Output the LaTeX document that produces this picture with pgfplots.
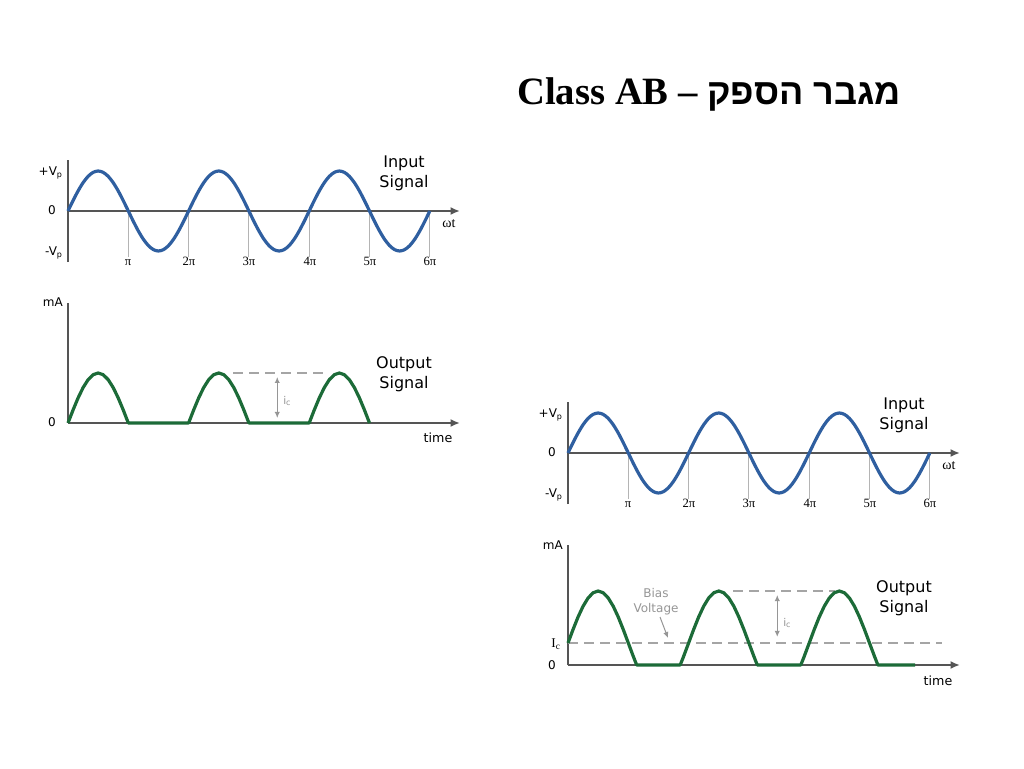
\documentclass[border=0pt]{standalone}
\usepackage{pgfplots}
\pgfplotsset{compat=1.18}
\usepackage{pgfplotstable}
\usetikzlibrary{arrows.meta}
\usepackage{fontspec}
\setmainfont{Liberation Serif}
\newfontfamily\sans{DejaVu Sans}
\newfontfamily\hebfont[Script=Hebrew]{Liberation Sans}
\TeXXeTstate=1

\definecolor{sigblue}{RGB}{47,95,160}
\definecolor{siggreen}{RGB}{28,107,56}
\definecolor{axgray}{RGB}{85,85,85}
\definecolor{tickgray}{RGB}{180,180,180}
\definecolor{dashgray}{RGB}{165,165,165}
\definecolor{txtgray}{RGB}{150,150,150}

% input sine, x in units of pi
\pgfplotstableread{
x y
0 0
0.0833 0.2588
0.1667 0.5
0.25 0.7071
0.3333 0.866
0.4167 0.9659
0.5 1
0.5833 0.9659
0.6667 0.866
0.75 0.7071
0.8333 0.5
0.9167 0.2588
1 0
1.0833 -0.2588
1.1667 -0.5
1.25 -0.7071
1.3333 -0.866
1.4167 -0.9659
1.5 -1
1.5833 -0.9659
1.6667 -0.866
1.75 -0.7071
1.8333 -0.5
1.9167 -0.2588
2 0
2.0833 0.2588
2.1667 0.5
2.25 0.7071
2.3333 0.866
2.4167 0.9659
2.5 1
2.5833 0.9659
2.6667 0.866
2.75 0.7071
2.8333 0.5
2.9167 0.2588
3 0
3.0833 -0.2588
3.1667 -0.5
3.25 -0.7071
3.3333 -0.866
3.4167 -0.9659
3.5 -1
3.5833 -0.9659
3.6667 -0.866
3.75 -0.7071
3.8333 -0.5
3.9167 -0.2588
4 0
4.0833 0.2588
4.1667 0.5
4.25 0.7071
4.3333 0.866
4.4167 0.9659
4.5 1
4.5833 0.9659
4.6667 0.866
4.75 0.7071
4.8333 0.5
4.9167 0.2588
5 0
5.0833 -0.2588
5.1667 -0.5
5.25 -0.7071
5.3333 -0.866
5.4167 -0.9659
5.5 -1
5.5833 -0.9659
5.6667 -0.866
5.75 -0.7071
5.8333 -0.5
5.9167 -0.2588
6 0
}\sinedata

% class B output (half-wave)
\pgfplotstableread{
x y
0 0
0.0833 0.2588
0.1667 0.5
0.25 0.7071
0.3333 0.866
0.4167 0.9659
0.5 1
0.5833 0.9659
0.6667 0.866
0.75 0.7071
0.8333 0.5
0.9167 0.2588
1 0
2 0
2.0833 0.2588
2.1667 0.5
2.25 0.7071
2.3333 0.866
2.4167 0.9659
2.5 1
2.5833 0.9659
2.6667 0.866
2.75 0.7071
2.8333 0.5
2.9167 0.2588
3 0
4 0
4.0833 0.2588
4.1667 0.5
4.25 0.7071
4.3333 0.866
4.4167 0.9659
4.5 1
4.5833 0.9659
4.6667 0.866
4.75 0.7071
4.8333 0.5
4.9167 0.2588
5 0
}\halfdata

% class AB output (biased, clipped at 0)
\pgfplotstableread{
x y
0 0.423
0.0833 0.682
0.1667 0.923
0.25 1.130
0.3333 1.289
0.4167 1.389
0.5 1.423
0.5833 1.389
0.6667 1.289
0.75 1.130
0.8333 0.923
0.9167 0.682
1 0.423
1.0833 0.164
1.139 0
1.861 0
1.9167 0.164
2 0.423
2.0833 0.682
2.1667 0.923
2.25 1.130
2.3333 1.289
2.4167 1.389
2.5 1.423
2.5833 1.389
2.6667 1.289
2.75 1.130
2.8333 0.923
2.9167 0.682
3 0.423
3.0833 0.164
3.139 0
3.861 0
3.9167 0.164
4 0.423
4.0833 0.682
4.1667 0.923
4.25 1.130
4.3333 1.289
4.4167 1.389
4.5 1.423
4.5833 1.389
4.6667 1.289
4.75 1.130
4.8333 0.923
4.9167 0.682
5 0.423
5.0833 0.164
5.139 0
5.755 0
}\abdata

\pgfplotsset{sig/.style={hide axis, clip=false, x=45.225pt, xmin=0, xmax=6.5, anchor=origin}}
\tikzset{
  xax/.style={axgray, line width=1.5pt, -{Latex[length=7pt,width=6pt]}},
  yax/.style={axgray, line width=1.1pt},
  tk/.style={tickgray, line width=0.75pt},
  dsh/.style={dashgray, line width=0.9pt, dash pattern=on 7.5pt off 4.5pt},
  dbl/.style={txtgray, line width=0.9pt, {Latex[length=4.5pt,width=4pt]}-{Latex[length=4.5pt,width=4pt]}},
}

\newcommand{\inputaxis}[1]{%
\begin{axis}[sig, at={#1}, y=30pt, ymin=-1.3, ymax=1.3]
\pgfplotsinvokeforeach{1,...,6}{\draw[tk] (axis cs:##1,0) -- (axis cs:##1,-1.15);}
\draw[yax] (axis cs:0,-1.28) -- (axis cs:0,1.28);
\draw[xax] (axis cs:0,0) -- (axis cs:6.5,0);
\addplot[sigblue, line width=2.4pt, smooth, line join=round] table {\sinedata};
\end{axis}}

\newcommand{\inputlabels}[2]{%
\begin{scope}[shift={(#1,#2)}]
\node[anchor=base east, inner sep=0, font=\sans\fontsize{9}{10}\selectfont] at (63,176) {+V\textsubscript{p}};
\node[anchor=base east, inner sep=0, font=\sans\fontsize{9}{10}\selectfont] at (56,215) {0};
\node[anchor=base east, inner sep=0, font=\sans\fontsize{9}{10}\selectfont] at (63,256) {-V\textsubscript{p}};
\node[font=\fontsize{10.5}{12}\selectfont, inner sep=0] at (449,224) {ωt};
\foreach \xx/\lab in {128/π,189/2π,249/3π,310/4π,370/5π,430/6π}
  \node[anchor=base, inner sep=0, font=\fontsize{9.5}{11}\selectfont] at (\xx,266) {\lab};
\node[anchor=base, inner sep=0, font=\sans\fontsize{12}{14}\selectfont] at (404,168) {Input};
\node[anchor=base, inner sep=0, font=\sans\fontsize{12}{14}\selectfont] at (404,188) {Signal};
\end{scope}}

\begin{document}
\begin{tikzpicture}
\path[fill=white, use as bounding box] (0,0) rectangle (768pt,576pt);

% ---- top-left: input ----
\inputaxis{(51pt,417.75pt)}

% ---- top-left: class B output ----
\begin{axis}[sig, at={(51pt,258.75pt)}, y=37.5pt, ymin=0, ymax=2.4]
\draw[yax] (axis cs:0,0) -- (axis cs:0,2.4);
\draw[xax] (axis cs:0,0) -- (axis cs:6.5,0);
\draw[dsh] (axis cs:2.74,1) -- (axis cs:4.3,1);
\draw[dbl] (axis cs:3.47,0.1) -- (axis cs:3.47,0.92);
\addplot[siggreen, line width=2.4pt, sharp plot, line join=round] table {\halfdata};
\end{axis}

% ---- bottom-right: input ----
\inputaxis{(426pt,236.25pt)}

% ---- bottom-right: class AB output ----
\begin{axis}[sig, at={(426pt,77.25pt)}, y=39pt, ymin=0, ymax=2.31]
\draw[yax] (axis cs:0,0) -- (axis cs:0,2.31);
\draw[xax] (axis cs:0,0) -- (axis cs:6.5,0);
\draw[dsh] (axis cs:0,0.423) -- (axis cs:6.2,0.423);
\draw[dsh] (axis cs:2.74,1.423) -- (axis cs:4.43,1.423);
\draw[dbl] (axis cs:3.47,0.54) -- (axis cs:3.47,1.346);
\addplot[siggreen, line width=2.4pt, sharp plot, line join=round] table {\abdata};
\end{axis}

% ---- text in pixel coordinates ----
\begin{scope}[x=0.75pt, y=-0.75pt, shift={(0pt,576pt)}]
\node[anchor=base west, inner sep=0, font=\fontsize{29}{32}\selectfont\bfseries] at (517,105)
  {Class AB – {\hebfont\fontsize{27}{30}\selectfont\beginR מגבר הספק\endR}};

\inputlabels{0}{0}
\inputlabels{500}{242}

% top-left output labels
\node[anchor=base east, inner sep=0, font=\sans\fontsize{9}{10}\selectfont] at (63,307) {mA};
\node[anchor=base east, inner sep=0, font=\sans\fontsize{9}{10}\selectfont] at (56,427) {0};
\node[anchor=base, inner sep=0, font=\sans\fontsize{9.5}{11}\selectfont] at (438,443) {time};
\node[anchor=base, inner sep=0, font=\sans\fontsize{12}{14}\selectfont] at (404,369) {Output};
\node[anchor=base, inner sep=0, font=\sans\fontsize{12}{14}\selectfont] at (404,389) {Signal};
\node[anchor=west, inner sep=0, text=txtgray, font=\sans\fontsize{8}{9}\selectfont] at (283,401) {i\textsubscript{c}};

% bottom-right output labels
\node[anchor=base east, inner sep=0, font=\sans\fontsize{9}{10}\selectfont] at (563,549) {mA};
\node[anchor=base east, inner sep=0, font=\fontsize{10}{11}\selectfont] at (561,647) {I\textsubscript{c}};
\node[anchor=base east, inner sep=0, font=\sans\fontsize{9}{10}\selectfont] at (556,669) {0};
\node[anchor=base, inner sep=0, font=\sans\fontsize{9.5}{11}\selectfont] at (938,685) {time};
\node[anchor=base, inner sep=0, font=\sans\fontsize{12}{14}\selectfont] at (904,592) {Output};
\node[anchor=base, inner sep=0, font=\sans\fontsize{12}{14}\selectfont] at (904,612) {Signal};
\node[anchor=west, inner sep=0, text=txtgray, font=\sans\fontsize{8}{9}\selectfont] at (783,623) {i\textsubscript{c}};
\node[anchor=base, inner sep=0, text=txtgray, font=\sans\fontsize{9}{10}\selectfont] at (656,597) {Bias};
\node[anchor=base, inner sep=0, text=txtgray, font=\sans\fontsize{9}{10}\selectfont] at (656,612) {Voltage};
\draw[txtgray, line width=0.75pt, -{Latex[length=4.5pt,width=4pt]}] (660,617) -- (668,638);
\end{scope}
\end{tikzpicture}
\end{document}
